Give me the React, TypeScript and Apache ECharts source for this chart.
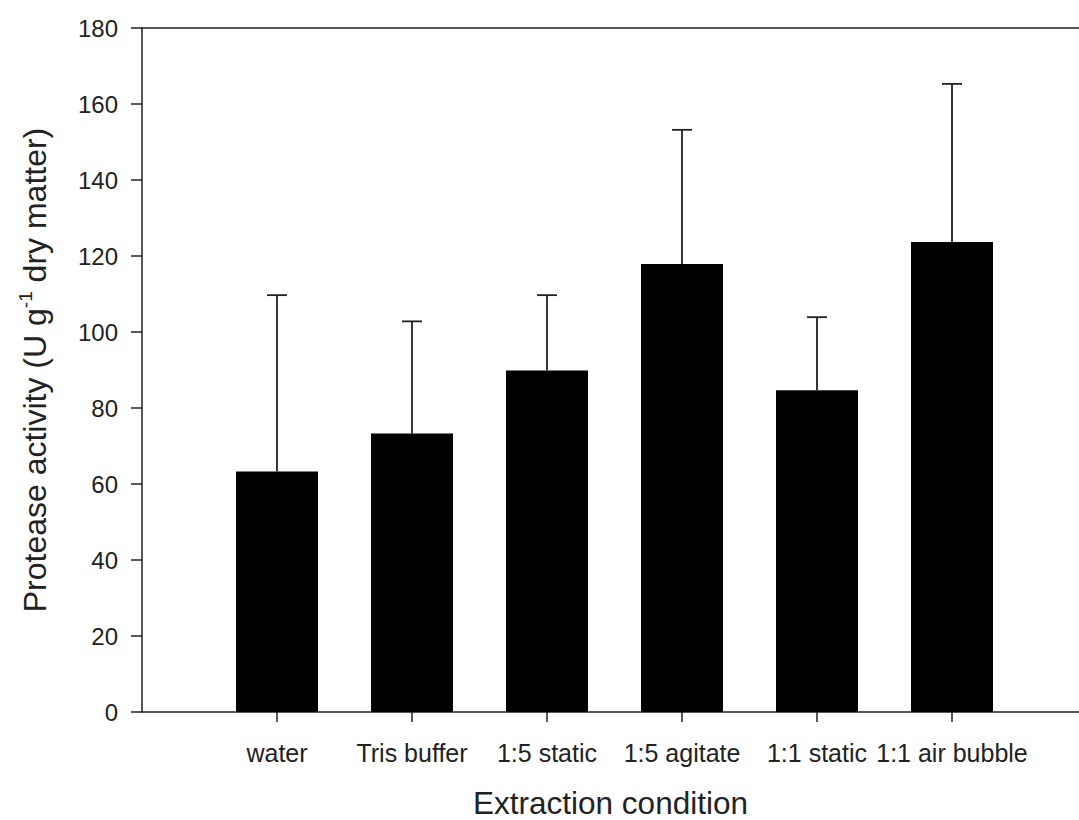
import React, { useEffect, useRef } from "react";
import * as echarts from "echarts";

const categories = ["water", "Tris buffer", "1:5 static", "1:5 agitate", "1:1 static", "1:1 air bubble"];
const positions = [1, 2, 3, 4, 5, 6];
const means = [63.3, 73.3, 89.9, 117.9, 84.7, 123.7];
const errors = [46.4, 29.5, 19.8, 35.3, 19.2, 41.6];
const yTicks = [0, 20, 40, 60, 80, 100, 120, 140, 160, 180];

const FONT = "'Liberation Sans', Arial, sans-serif";
const INK = "#222";
const X_MAX = 937 / 135;

export default function App() {
  const ref = useRef<HTMLDivElement>(null);
  useEffect(() => {
    if (!ref.current) return;
    const chart = echarts.init(ref.current, null, { renderer: "svg" });
    const barData = positions.map((p, i) => [p, means[i]]);
    const errData = positions.map((p, i) => [p, means[i], means[i] + errors[i]]);
    chart.setOption({
      animation: false,
      backgroundColor: "#fff",
      grid: {
        left: 142,
        top: 28,
        right: 0,
        bottom: 108,
        show: false,
        containLabel: false,
        outerBoundsMode: "none",
      },
      xAxis: [
        {
          type: "value",
          min: 0,
          max: X_MAX,
          interval: 1,
          splitLine: { show: false },
          axisLine: { show: true, lineStyle: { color: INK, width: 1.5 } },
          axisTick: {
            show: true,
            length: 10,
            lineStyle: { color: INK, width: 1.5 },
            customValues: positions,
          },
          axisLabel: {
            customValues: positions,
            formatter: (v: number) => categories[Math.round(v) - 1] ?? "",
            color: INK,
            fontFamily: FONT,
            fontSize: 25,
            margin: 28,
          },
          name: "Extraction condition",
          nameLocation: "middle",
          nameGap: 75,
          nameTextStyle: { color: INK, fontFamily: FONT, fontSize: 31.5, lineHeight: 32 },
        },
        {
          type: "value",
          position: "top",
          min: 0,
          max: X_MAX,
          splitLine: { show: false },
          axisLine: { show: true, lineStyle: { color: INK, width: 1.5 } },
          axisTick: { show: false },
          axisLabel: { show: false },
        },
      ],
      yAxis: {
        type: "value",
        min: 0,
        max: 180,
        interval: 20,
        splitLine: { show: false },
        axisLine: { show: true, lineStyle: { color: INK, width: 1.5 } },
        axisTick: { show: true, length: 11, lineStyle: { color: INK, width: 1.5 } },
        axisLabel: {
          color: INK,
          fontFamily: FONT,
          fontSize: 24,
          margin: 24,
          formatter: (v: number) => (yTicks.includes(v) ? String(v) : ""),
        },
        name: "{m|Protease activity (U g}{s|-1}{m| dry matter)}",
        nameLocation: "middle",
        nameGap: 88,
        nameTextStyle: {
          color: INK,
          fontFamily: FONT,
          fontSize: 32,
          rich: {
            m: { fontFamily: FONT, fontSize: 32, color: INK, lineHeight: 38 },
            s: { fontFamily: FONT, fontSize: 19, color: INK, lineHeight: 38, verticalAlign: "top" },
          },
        },
      },
      series: [
        {
          type: "bar",
          xAxisIndex: 0,
          data: barData,
          barWidth: 82,
          itemStyle: { color: "#000" },
          z: 2,
        },
        {
          type: "custom",
          xAxisIndex: 0,
          data: errData,
          z: 3,
          renderItem: (params: any, api: any) => {
            const x = api.value(0);
            const lo = api.coord([x, api.value(1)]);
            const hi = api.coord([x, api.value(2)]);
            const half = 10;
            return {
              type: "group",
              children: [
                {
                  type: "line",
                  shape: { x1: lo[0], y1: lo[1], x2: hi[0], y2: hi[1] },
                  style: { stroke: INK, lineWidth: 1.8 },
                },
                {
                  type: "line",
                  shape: { x1: hi[0] - half, y1: hi[1], x2: hi[0] + half, y2: hi[1] },
                  style: { stroke: INK, lineWidth: 1.8 },
                },
              ],
            };
          },
        },
      ],
    });
    return () => chart.dispose();
  }, []);
  return (
    <div
      ref={ref}
      style={{ position: "absolute", left: 0, top: 0, width: 1079, height: 820 }}
    />
  );
}
